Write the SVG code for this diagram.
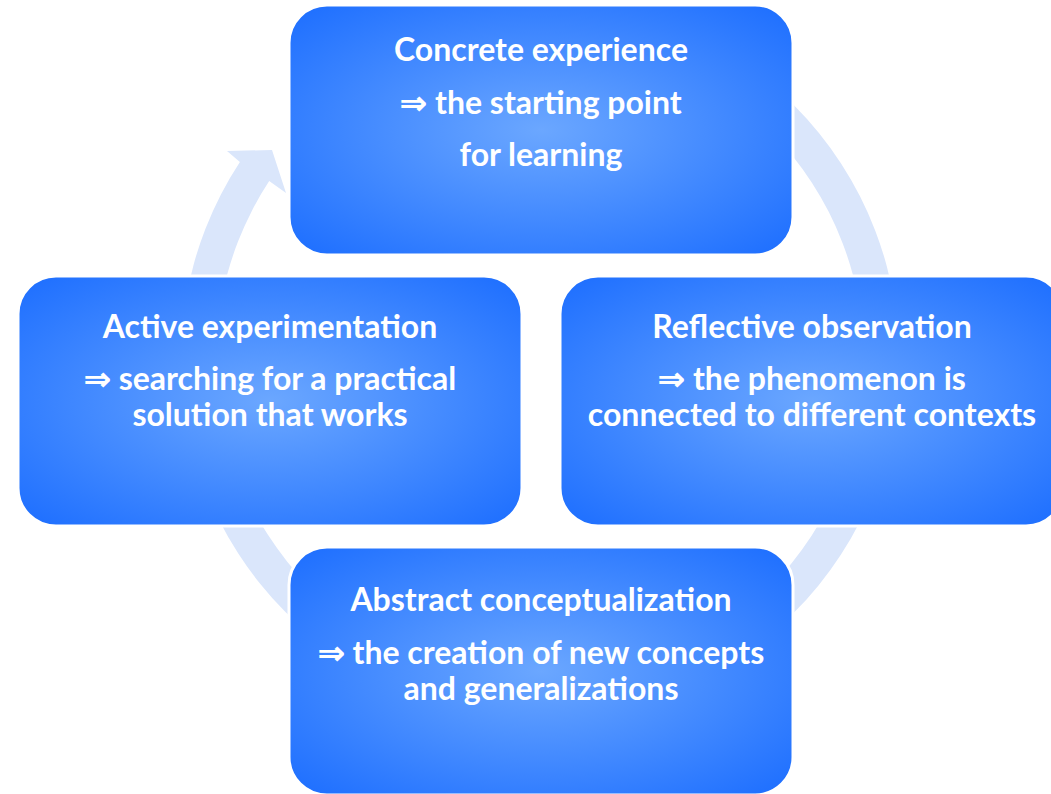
<svg xmlns="http://www.w3.org/2000/svg" width="1051" height="794" viewBox="0 0 1051 794">
  <defs>
    <radialGradient id="boxFill" cx="0.5" cy="0.5" r="0.72">
      <stop offset="0" stop-color="#6ba7ff"/>
      <stop offset="1" stop-color="#1a6cff"/>
    </radialGradient>
    <style>
      .box { fill: url(#boxFill); stroke: #ffffff; stroke-width: 3; }
      .label { font-family: Lato, "Open Sans", "Liberation Sans", sans-serif; font-weight: 700; font-size: 32px; fill: #ffffff; text-anchor: middle; }
      .cycle { fill: #dae6fb; }
    </style>
  </defs>
  <rect width="1051" height="794" fill="#ffffff"/>

  <!-- cycle arrow running clockwise behind the four stages -->
  <g id="connectors">
    <path class="cycle" d="M 632.9 12.2 A 359 359 0 1 1 239.9 161.9 L 227 151 L 272 150 L 286 193 L 269.2 181.1 A 324 324 0 1 0 623.9 46 Z"/>
  </g>

  <g id="concrete-experience">
    <rect class="box" x="289" y="5" width="504" height="250" rx="38"/>
    <text class="label" x="541" y="61">Concrete experience</text>
    <text class="label" x="541" y="114">⇒ the starting point</text>
    <text class="label" x="541" y="166">for learning</text>
  </g>

  <g id="reflective-observation">
    <rect class="box" x="560" y="276" width="504" height="250" rx="38"/>
    <text class="label" x="812" y="338">Reflective observation</text>
    <text class="label" x="812" y="390">⇒ the phenomenon is</text>
    <text class="label" x="812" y="426">connected to different contexts</text>
  </g>

  <g id="abstract-conceptualization">
    <rect class="box" x="289" y="547" width="504" height="248" rx="38"/>
    <text class="label" x="541" y="611">Abstract conceptualization</text>
    <text class="label" x="541" y="664">⇒ the creation of new concepts</text>
    <text class="label" x="541" y="700">and generalizations</text>
  </g>

  <g id="active-experimentation">
    <rect class="box" x="18" y="276" width="504" height="250" rx="38"/>
    <text class="label" x="270" y="338">Active experimentation</text>
    <text class="label" x="270" y="390">⇒ searching for a practical</text>
    <text class="label" x="270" y="426">solution that works</text>
  </g>
</svg>
